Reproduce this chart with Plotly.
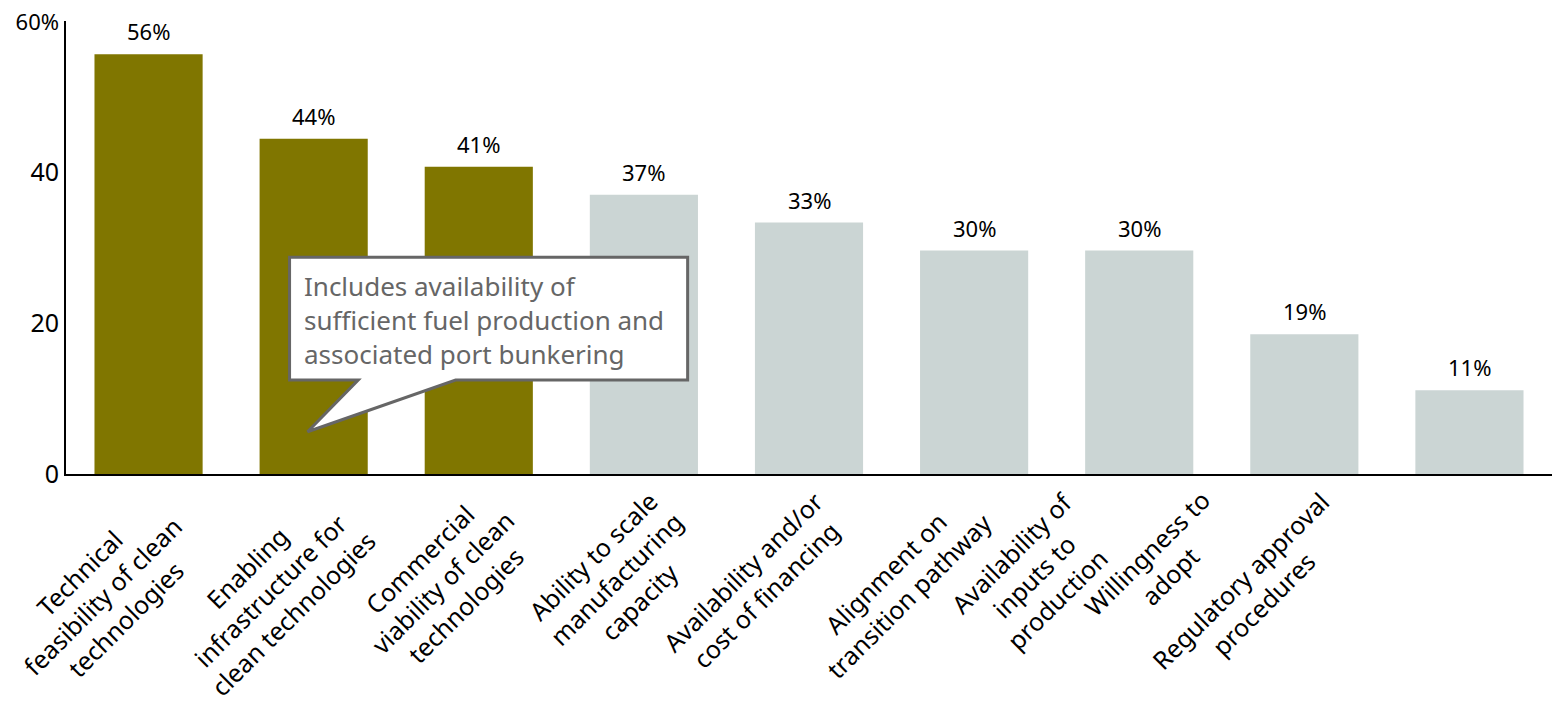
import plotly.graph_objects as go

categories = [
    "Technical<br>feasibility of clean<br>technologies",
    "Enabling<br>infrastructure for<br>clean technologies",
    "Commercial<br>viability of clean<br>technologies",
    "Ability to scale<br>manufacturing<br>capacity",
    "Availability and/or<br>cost of financing",
    "Alignment on<br>transition pathway",
    "Availability of<br>inputs to<br>production",
    "Willingness to<br>adopt",
    "Regulatory approval<br>procedures",
]
values = [55.6, 44.4, 40.7, 37.0, 33.3, 29.6, 29.6, 18.5, 11.1]
value_labels = ["56%", "44%", "41%", "37%", "33%", "30%", "30%", "19%", "11%"]
highlight = [True, True, True, False, False, False, False, False, False]
y_tickvals = [0, 20, 40, 60]
y_ticktext = ["0", "20", "40", "<span style='font-size:22px'>60%</span>"]
callout_text = "Includes availability of<br>sufficient fuel production and<br>associated port bunkering"

OLIVE = "#807600"
GREY = "#cbd5d4"
FONT = "Noto Sans"

# label placement (pixel offsets of rotated label centres relative to tick / x-axis)
label_dx = [-47, -44, -37, -28, -55, -77, -105, -146, -218]
label_dy = [122, 116, 108, 104, 109, 110, 101, 90, 118]

cat_idx = list(range(len(categories)))

fig = go.Figure()
fig.add_trace(go.Bar(
    x=cat_idx,
    y=values,
    marker=dict(color=[OLIVE if h else GREY for h in highlight], line=dict(width=0)),
    width=0.655,
    hoverinfo="skip",
))

# value labels above bars
for i, (v, t) in enumerate(zip(values, value_labels)):
    fig.add_annotation(
        x=i, y=v, xref="x", yref="y", text=t, showarrow=False,
        xanchor="center", yanchor="bottom", yshift=6,
        font=dict(family=FONT, size=22, color="black"),
    )

# rotated category labels
for i, lab in enumerate(categories):
    fig.add_annotation(
        x=i, y=0, xref="x", yref="paper",
        text=lab, showarrow=False, textangle=-45, align="center",
        xanchor="center", yanchor="middle",
        xshift=label_dx[i], yshift=-label_dy[i],
        font=dict(family=FONT, size=25, color="black"),
    )

# callout shape (speech bubble) in data coordinates
L, R, T, B = 0.854, 3.265, 28.7, 12.45
t1, tipx, tipy, t2 = 1.27, 0.963, 5.6, 1.86
path = (f"M {L},{T} L {R},{T} L {R},{B} L {t2},{B} L {tipx},{tipy} "
        f"L {t1},{B} L {L},{B} Z")
fig.add_shape(type="path", path=path, xref="x", yref="y",
              fillcolor="white", line=dict(color="#666666", width=3), layer="above")
fig.add_annotation(
    x=L, y=T, xref="x", yref="y", text=callout_text, showarrow=False,
    align="left", xanchor="left", yanchor="top", xshift=12, yshift=-9,
    font=dict(family=FONT, size=26, color="#666666"),
)

# page body adds an 8px offset; margins compensate for it
fig.update_layout(
    width=1560, height=706,
    margin=dict(l=58, r=16, t=13, b=240),
    paper_bgcolor="white", plot_bgcolor="white",
    showlegend=False,
    font=dict(family=FONT, color="black"),
)
fig.update_xaxes(
    range=[-0.5, len(categories) - 0.5], showticklabels=False, ticks="",
    showline=True, linecolor="black", linewidth=2, showgrid=False, zeroline=False,
    automargin=False,
)
fig.update_yaxes(
    range=[0, 60], tickvals=y_tickvals, ticktext=y_ticktext,
    showline=True, linecolor="black", linewidth=2, showgrid=False, zeroline=False,
    ticks="", tickfont=dict(family=FONT, size=25, color="black"), ticklabelstandoff=0,
    ticklabeloverflow="allow", automargin=False,
)

fig.write_html("out.html")
